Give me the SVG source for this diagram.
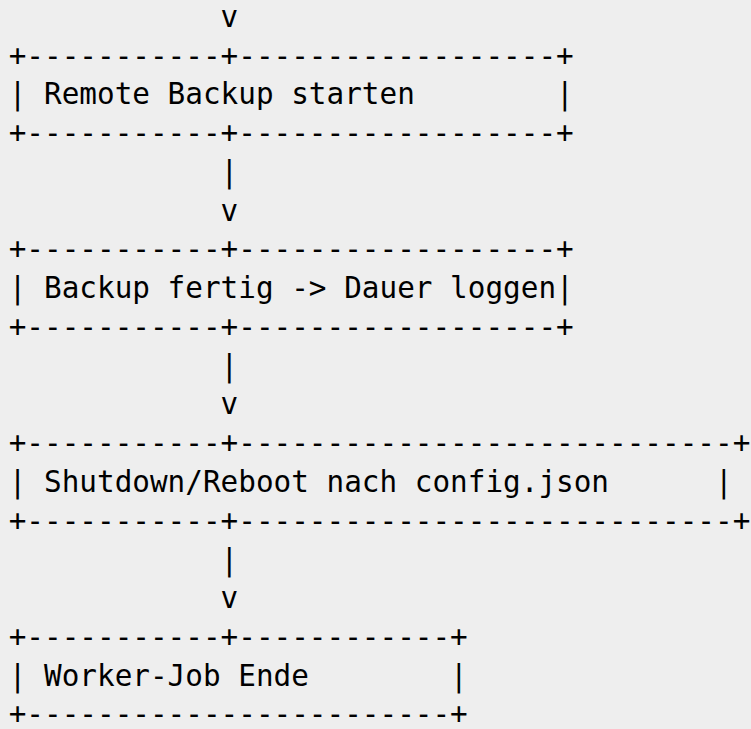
<svg xmlns="http://www.w3.org/2000/svg" width="751" height="729" viewBox="0 0 751 729">
<style>
text{font-family:"DejaVu Sans Mono","Liberation Mono",monospace;font-size:29.34px;fill:#000;white-space:pre}
</style>
<rect width="751" height="729" fill="#eeeeee"/>
<g id="connectors">
<text x="8.7" y="26.8" xml:space="preserve">            v</text>
<text x="8.7" y="181.8" xml:space="preserve">            |</text>
<text x="8.7" y="220.6" xml:space="preserve">            v</text>
<text x="8.7" y="376.4" xml:space="preserve">            |</text>
<text x="8.7" y="414.4" xml:space="preserve">            v</text>
<text x="8.7" y="569.6" xml:space="preserve">            |</text>
<text x="8.7" y="608.2" xml:space="preserve">            v</text>
</g>
<g id="node-remote-backup">
<text x="8.7" y="65.6" xml:space="preserve">+-----------+------------------+</text>
<text x="8.7" y="104.3" xml:space="preserve">| Remote Backup starten        |</text>
<text x="8.7" y="143.1" xml:space="preserve">+-----------+------------------+</text>
</g>
<g id="node-backup-fertig">
<text x="8.7" y="259.4" xml:space="preserve">+-----------+------------------+</text>
<text x="8.7" y="298.1" xml:space="preserve">| Backup fertig -&gt; Dauer loggen|</text>
<text x="8.7" y="336.9" xml:space="preserve">+-----------+------------------+</text>
</g>
<g id="node-shutdown">
<text x="8.7" y="453.2" xml:space="preserve">+-----------+----------------------------+</text>
<text x="8.7" y="491.9" xml:space="preserve">| Shutdown/Reboot nach config.json      |</text>
<text x="8.7" y="530.7" xml:space="preserve">+-----------+----------------------------+</text>
</g>
<g id="node-worker-ende">
<text x="8.7" y="646.9" xml:space="preserve">+-----------+------------+</text>
<text x="8.7" y="685.7" xml:space="preserve">| Worker-Job Ende        |</text>
<text x="8.7" y="724.4" xml:space="preserve">+------------------------+</text>
</g>
</svg>
